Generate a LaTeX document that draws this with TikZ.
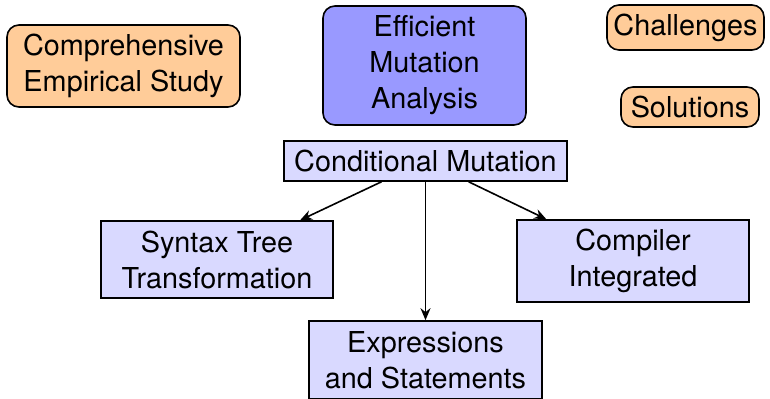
\documentclass[tikz,border=0pt]{standalone}
\usepackage{fontspec}
\setmainfont{TeX Gyre Heros}
\usepackage{tikz}
\usepackage{xcolor}
\usetikzlibrary {arrows.meta,positioning,calc}
\definecolor{TopicBackground}{HTML}{FFCC99}
\definecolor{MainTopicBackground}{HTML}{9999FF}
\definecolor{TechniqueBackground}{HTML}{D9D9FF}
\tikzstyle{TopicNode} =[draw,fill=TopicBackground,rounded corners=6pt,align=center,inner sep=2pt]
\tikzstyle{MainTopicNode} =[draw,fill=MainTopicBackground,rounded corners=6pt,align=center,inner sep=2pt]
\tikzstyle{TechniqueNode} =[draw,fill=TechniqueBackground,align=center,inner sep=2pt]

\begin{document}
\begin{tikzpicture}[x=0.5pt,y=-0.5pt,thick,font=\fontsize{14.4}{18}\selectfont]
\useasboundingbox (0,0) rectangle (770,399);
\node[TopicNode,minimum width=116.5pt,minimum height=41pt](EmpiricalStudy) at (123.5,66){Comprehensive\\Empirical Study};
\node[MainTopicNode,minimum width=101.5pt,minimum height=59.5pt](EfficientAnalysis) at (424.5,65.5){Efficient\\Mutation\\Analysis};
\node[TopicNode,minimum width=78.5pt,minimum height=22.5pt](Challenges) at (685.5,27.5){Challenges};
\node[TopicNode,minimum width=69pt,minimum height=20pt](Solutions) at (690,107){Solutions};
\node[TechniqueNode,minimum width=141.5pt,minimum height=20pt](ConditionalMutation) at (425.5,161){Conditional Mutation};
\node[TechniqueNode,minimum width=116pt,minimum height=38.5pt](SyntaxTree) at (217,259.5){Syntax Tree\\Transformation};
\node[TechniqueNode,minimum width=116pt,minimum height=41pt](CompilerIntegrated) at (633,261){Compiler\\Integrated};
\node[TechniqueNode,minimum width=116.5pt,minimum height=39pt](ExprStmt) at (425.5,360){Expressions\\and Statements};
\draw[-{Stealth[length=6pt,width=5pt]}] (ConditionalMutation) -- (SyntaxTree);
\draw[-{Stealth[length=6pt,width=5pt]}] (ConditionalMutation) -- (ExprStmt);
\draw[-{Stealth[length=6pt,width=5pt]}] (ConditionalMutation) -- (CompilerIntegrated);
\end{tikzpicture}
\end{document}
